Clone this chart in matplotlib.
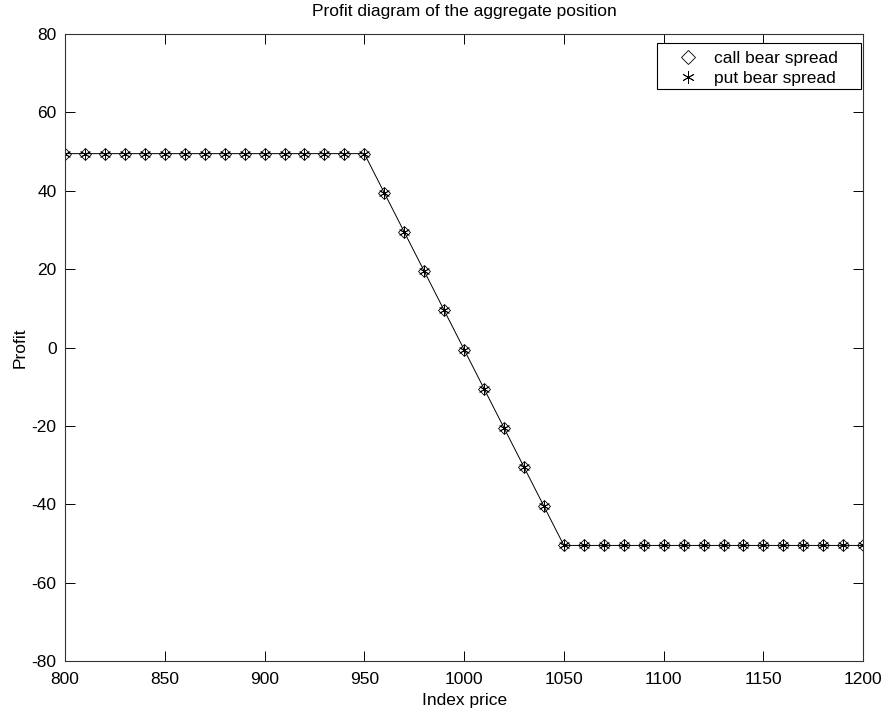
import matplotlib
matplotlib.use("Agg")
import matplotlib.pyplot as plt
from matplotlib.lines import Line2D
from matplotlib.patches import Rectangle

plt.rcParams['font.family'] = ['Liberation Sans', 'DejaVu Sans']
plt.rcParams['axes.unicode_minus'] = False

index_price = [800, 810, 820, 830, 840, 850, 860, 870, 880, 890, 900, 910, 920, 930, 940,
               950, 960, 970, 980, 990, 1000, 1010, 1020, 1030, 1040, 1050, 1060, 1070,
               1080, 1090, 1100, 1110, 1120, 1130, 1140, 1150, 1160, 1170, 1180, 1190, 1200]
call_bear = [49.5, 49.5, 49.5, 49.5, 49.5, 49.5, 49.5, 49.5, 49.5, 49.5, 49.5, 49.5, 49.5, 49.5, 49.5,
             49.5, 39.5, 29.5, 19.5, 9.5, -0.5, -10.5, -20.5, -30.5, -40.5, -50.5, -50.5, -50.5,
             -50.5, -50.5, -50.5, -50.5, -50.5, -50.5, -50.5, -50.5, -50.5, -50.5, -50.5, -50.5, -50.5]
put_bear = [49.5, 49.5, 49.5, 49.5, 49.5, 49.5, 49.5, 49.5, 49.5, 49.5, 49.5, 49.5, 49.5, 49.5, 49.5,
            49.5, 39.5, 29.5, 19.5, 9.5, -0.5, -10.5, -20.5, -30.5, -40.5, -50.5, -50.5, -50.5,
            -50.5, -50.5, -50.5, -50.5, -50.5, -50.5, -50.5, -50.5, -50.5, -50.5, -50.5, -50.5, -50.5]
x_ticks = [800, 850, 900, 950, 1000, 1050, 1100, 1150, 1200]
y_ticks = [-80, -60, -40, -20, 0, 20, 40, 60, 80]

FS = 12.5
fig = plt.figure(figsize=(8.82, 7.11), dpi=100)
ax = fig.add_axes([0.0737, 0.0703, 0.905, 0.8817])

ax.plot(index_price, call_bear, color='black', lw=0.7, marker='D', markersize=6.5,
        markerfacecolor='none', markeredgecolor='black', markeredgewidth=0.6,
        label='call bear spread')
ax.plot(index_price, put_bear, color='black', lw=0.7, marker=(6, 2, 0), markersize=8,
        markeredgecolor='black', markeredgewidth=0.6, linestyle='none',
        label='put bear spread')

ax.set_xlim(800, 1200)
ax.set_ylim(-80, 80)
ax.set_xticks(x_ticks)
ax.set_yticks(y_ticks)
ax.tick_params(direction='in', top=True, right=True, length=7, width=0.7, labelsize=FS)
ax.tick_params(axis='x', pad=8)
ax.tick_params(axis='y', pad=6)
for s in ax.spines.values():
    s.set_linewidth(0.8)
    s.set_color('#333333')

ax.set_xlabel('Index price', fontsize=FS, labelpad=4)
ax.set_ylabel('Profit', fontsize=FS, labelpad=3)
ax.set_title('Profit diagram of the aggregate position', fontsize=FS, pad=13)

# legend frame (MATLAB-style wide box)
ax.add_patch(Rectangle((0.742, 0.912), 0.2555, 0.0736, transform=ax.transAxes,
                       facecolor='white', edgecolor='black', linewidth=0.8,
                       zorder=5, clip_on=False))
handles = [Line2D([], [], linestyle='none', marker='D', markersize=7, markerfacecolor='none',
                  markeredgecolor='black', markeredgewidth=0.6),
           Line2D([], [], linestyle='none', marker=(6, 2, 0), markersize=9,
                  markeredgecolor='black', markeredgewidth=0.6)]
leg = ax.legend(handles, ['call bear spread', 'put bear spread'], loc='upper left',
                bbox_to_anchor=(0.742, 0.980),
                fontsize=FS, frameon=False,
                borderaxespad=0.0, handlelength=3.0, handletextpad=0.0,
                labelspacing=0.27, borderpad=0.25)
leg.set_zorder(6)

fig.savefig('out.png', dpi=100)
